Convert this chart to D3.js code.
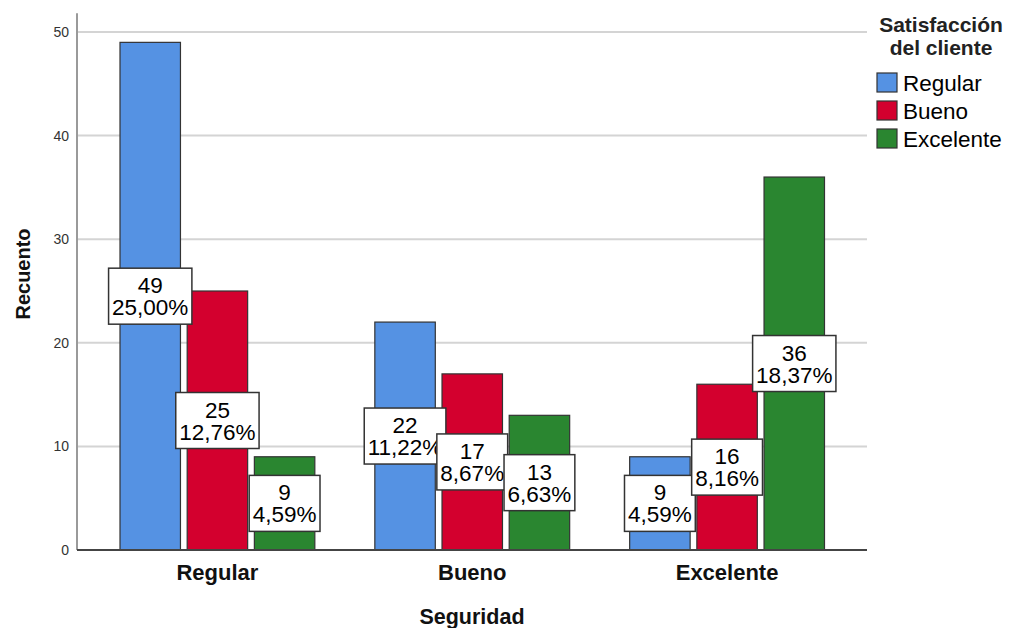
<!DOCTYPE html>
<html>
<head>
<meta charset="utf-8">
<script src="https://cdn.jsdelivr.net/npm/d3@7"></script>
<style>
  html, body { margin: 0; padding: 0; background: #fff; }
  svg { display: block; font-family: "Liberation Sans", Arial, sans-serif; }
</style>
</head>
<body>
<svg id="chart" width="1010" height="628"></svg>
<script>
// Seguridad (x categories) and Satisfacción del cliente (series)
const categories = ["Regular", "Bueno", "Excelente"];
const series = ["Regular", "Bueno", "Excelente"];
// Counts per category, one array per series
const regularCounts   = [49, 22, 9];
const buenoCounts     = [25, 17, 16];
const excelenteCounts = [9, 13, 36];
const yTicks = [0, 10, 20, 30, 40, 50];
const colors = ["#5592e3", "#d3002e", "#2a8630"];

const counts = [regularCounts, buenoCounts, excelenteCounts];
const total = d3.sum(counts.flat());
const pct = v => d3.format(".2f")(v / total * 100).replace(".", ",") + "%";

const svg = d3.select("#chart");

const x0 = d3.scaleBand().domain(categories).range([90, 854.5]).paddingInner(0).paddingOuter(0);
const x1 = d3.scaleBand().domain(series).range([30, x0.bandwidth() - 30]).paddingInner(0.1);
const y = d3.scaleLinear().domain([0, 50]).range([550, 32]);

const plotLeft = 77, plotRight = 867;

// horizontal gridlines
svg.append("g").selectAll("line")
  .data(yTicks.filter(t => t > 0))
  .join("line")
  .attr("x1", plotLeft).attr("x2", plotRight)
  .attr("y1", d => y(d)).attr("y2", d => y(d))
  .attr("stroke", "#d4d4d4").attr("stroke-width", 2);

// y tick labels
svg.append("g").selectAll("text")
  .data(yTicks)
  .join("text")
  .attr("x", 69).attr("y", d => y(d) + 5)
  .attr("text-anchor", "end")
  .attr("font-size", 14).attr("fill", "#333")
  .text(d => d);

// y axis line
svg.append("line")
  .attr("x1", plotLeft).attr("x2", plotLeft)
  .attr("y1", y(51.8)).attr("y2", y(0))
  .attr("stroke", "#9a9a9a").attr("stroke-width", 2);

// bars
const flat = [];
categories.forEach((c, ci) => {
  series.forEach((s, si) => {
    flat.push({ cat: c, ser: s, si, value: counts[si][ci] });
  });
});

svg.append("g").selectAll("rect")
  .data(flat)
  .join("rect")
  .attr("x", d => x0(d.cat) + x1(d.ser))
  .attr("y", d => y(d.value))
  .attr("width", x1.bandwidth())
  .attr("height", d => y(0) - y(d.value))
  .attr("fill", d => colors[d.si])
  .attr("stroke", "#333")
  .attr("stroke-width", 1.2);

// baseline
svg.append("line")
  .attr("x1", plotLeft).attr("x2", plotRight)
  .attr("y1", y(0)).attr("y2", y(0))
  .attr("stroke", "#444").attr("stroke-width", 2);

// data labels: count and percentage, boxed, centred on half the bar height
const labels = svg.append("g");
flat.forEach(d => {
  const cx = x0(d.cat) + x1(d.ser) + x1.bandwidth() / 2;
  const cy = y(d.value / 2);
  const g = labels.append("g");
  const box = g.append("rect");
  const t = g.append("text")
    .attr("text-anchor", "middle").attr("font-size", 22.5).attr("fill", "#000");
  const s1 = t.append("tspan").attr("x", cx).attr("y", cy - 3).text(d.value);
  const s2 = t.append("tspan").attr("x", cx).attr("y", cy + 19).text(pct(d.value));
  const w = Math.max(s1.node().getComputedTextLength(), s2.node().getComputedTextLength()) + 7;
  box.attr("x", cx - w / 2).attr("y", cy - 28)
    .attr("width", w).attr("height", 56)
    .attr("fill", "#fff").attr("stroke", "#333").attr("stroke-width", 1.5);
});

// category labels
svg.append("g").selectAll("text")
  .data(categories)
  .join("text")
  .attr("x", d => x0(d) + x0.bandwidth() / 2)
  .attr("y", 580)
  .attr("text-anchor", "middle")
  .attr("font-size", 22).attr("font-weight", "bold").attr("fill", "#111")
  .text(d => d);

// axis titles
svg.append("text")
  .attr("x", 472).attr("y", 624)
  .attr("text-anchor", "middle")
  .attr("font-size", 21.5).attr("font-weight", "bold").attr("fill", "#111")
  .text("Seguridad");

svg.append("text")
  .attr("transform", "translate(30,274) rotate(-90)")
  .attr("text-anchor", "middle")
  .attr("font-size", 20).attr("font-weight", "bold").attr("fill", "#111")
  .text("Recuento");

// legend
const legend = svg.append("g");
const title = legend.append("text")
  .attr("text-anchor", "middle")
  .attr("font-size", 21).attr("font-weight", "bold").attr("fill", "#222");
title.append("tspan").attr("x", 941).attr("y", 32).text("Satisfacción");
title.append("tspan").attr("x", 941).attr("y", 55).text("del cliente");

const items = legend.selectAll("g.item")
  .data(series)
  .join("g")
  .attr("class", "item")
  .attr("transform", (d, i) => `translate(877,${73 + i * 28})`);
items.append("rect")
  .attr("width", 20).attr("height", 19)
  .attr("fill", (d, i) => colors[i])
  .attr("stroke", "#333").attr("stroke-width", 1.2);
items.append("text")
  .attr("x", 26).attr("y", 18)
  .attr("font-size", 22.5).attr("fill", "#000")
  .text(d => d);
</script>
</body>
</html>
